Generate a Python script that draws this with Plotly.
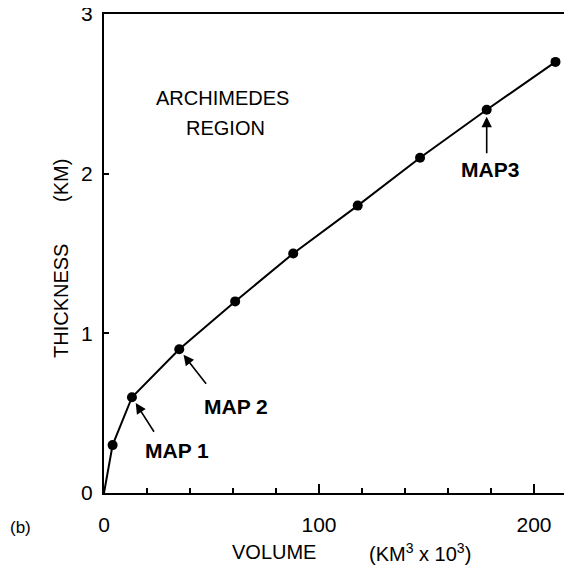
import plotly.graph_objects as go

# Data
volume = [0, 4, 13, 35, 61, 88, 118, 147, 178, 210]          # KM^3 x 10^3
thickness = [0, 0.3, 0.6, 0.9, 1.2, 1.5, 1.8, 2.1, 2.4, 2.7]  # KM
map_labels = ["MAP 1", "MAP 2", "MAP3"]
map_index = [2, 3, 8]
x_ticks = [0, 100, 200]
y_ticks = [0, 1, 2, 3]

# page body has an 8px margin, so the figure is drawn 8px in from the corner
OFF = 8
W, H = 572 - OFF, 575 - OFF
ML, MR, MT, MB = 104 - OFF, 0, 14 - OFF, 82
PW, PH = W - ML - MR, H - MT - MB


def px(xs):
    # screenshot pixel -> paper
    return (xs - OFF - ML) / PW


def py(ys):
    return (H - MB - (ys - OFF)) / PH


FONT = "Liberation Sans, Arial, sans-serif"

fig = go.Figure()
fig.add_trace(go.Scatter(x=volume, y=thickness, mode="lines",
                         line=dict(color="black", width=2), hoverinfo="skip"))
fig.add_trace(go.Scatter(x=volume[1:], y=thickness[1:], mode="markers",
                         marker=dict(color="black", size=10)))


def label(xs, ys, text, size=20, angle=0):
    return dict(x=px(xs), y=py(ys), xref="paper", yref="paper", text=text,
                xanchor="center", yanchor="middle", textangle=angle,
                showarrow=False, font=dict(family=FONT, size=size, color="black"))


annotations = []
arrow_off = [(23, 36), (28, 36), (0, 45)]
text_pos = [(177, 450), (236, 406), (490, 170)]
for i, idx in enumerate(map_index):
    annotations.append(dict(x=volume[idx], y=thickness[idx], xref="x", yref="y",
                            ax=arrow_off[i][0], ay=arrow_off[i][1], text="",
                            showarrow=True, arrowhead=2, arrowsize=1.3,
                            arrowwidth=1.6, arrowcolor="black", standoff=7))
    annotations.append(label(text_pos[i][0], text_pos[i][1],
                             "<b>%s</b>" % map_labels[i], size=21))

annotations += [
    label(222, 98, "ARCHIMEDES", 20),
    label(225, 128, "REGION", 20),
    label(274, 552, "VOLUME", 20),
    label(420, 552, "(KM<sup>3</sup> x 10<sup>3</sup>)", 20),
    label(61, 181, "(KM)", 20, -90),
    label(61, 301, "THICKNESS", 20, -90),
    label(20, 527, "(b)", 17),
]

fig.update_layout(
    width=W, height=H,
    margin=dict(l=ML, r=MR, t=MT, b=MB, autoexpand=False),
    paper_bgcolor="white", plot_bgcolor="white",
    showlegend=False,
    annotations=annotations,
    xaxis=dict(range=[0, PW / 2.15], tickvals=x_ticks, ticks="inside", ticklen=9,
               tickwidth=1.5, tickcolor="black", showline=True, linecolor="black",
               linewidth=2, mirror=True, showgrid=False, zeroline=False,
               ticklabelstandoff=12, ticklabeloverflow="allow",
               tickfont=dict(family=FONT, size=21, color="black"),
               minor=dict(dtick=20, tick0=0, ticks="inside", ticklen=5,
                          tickwidth=1.5, tickcolor="black", showgrid=False)),
    yaxis=dict(range=[0, 3], tickvals=y_ticks, ticks="inside", ticklen=5,
               tickwidth=1.5, tickcolor="black", showline=True, linecolor="black",
               linewidth=2, showgrid=False, zeroline=False,
               ticklabelstandoff=5, ticklabeloverflow="allow",
               tickfont=dict(family=FONT, size=21, color="black")),
)

fig.write_html("out.html")
